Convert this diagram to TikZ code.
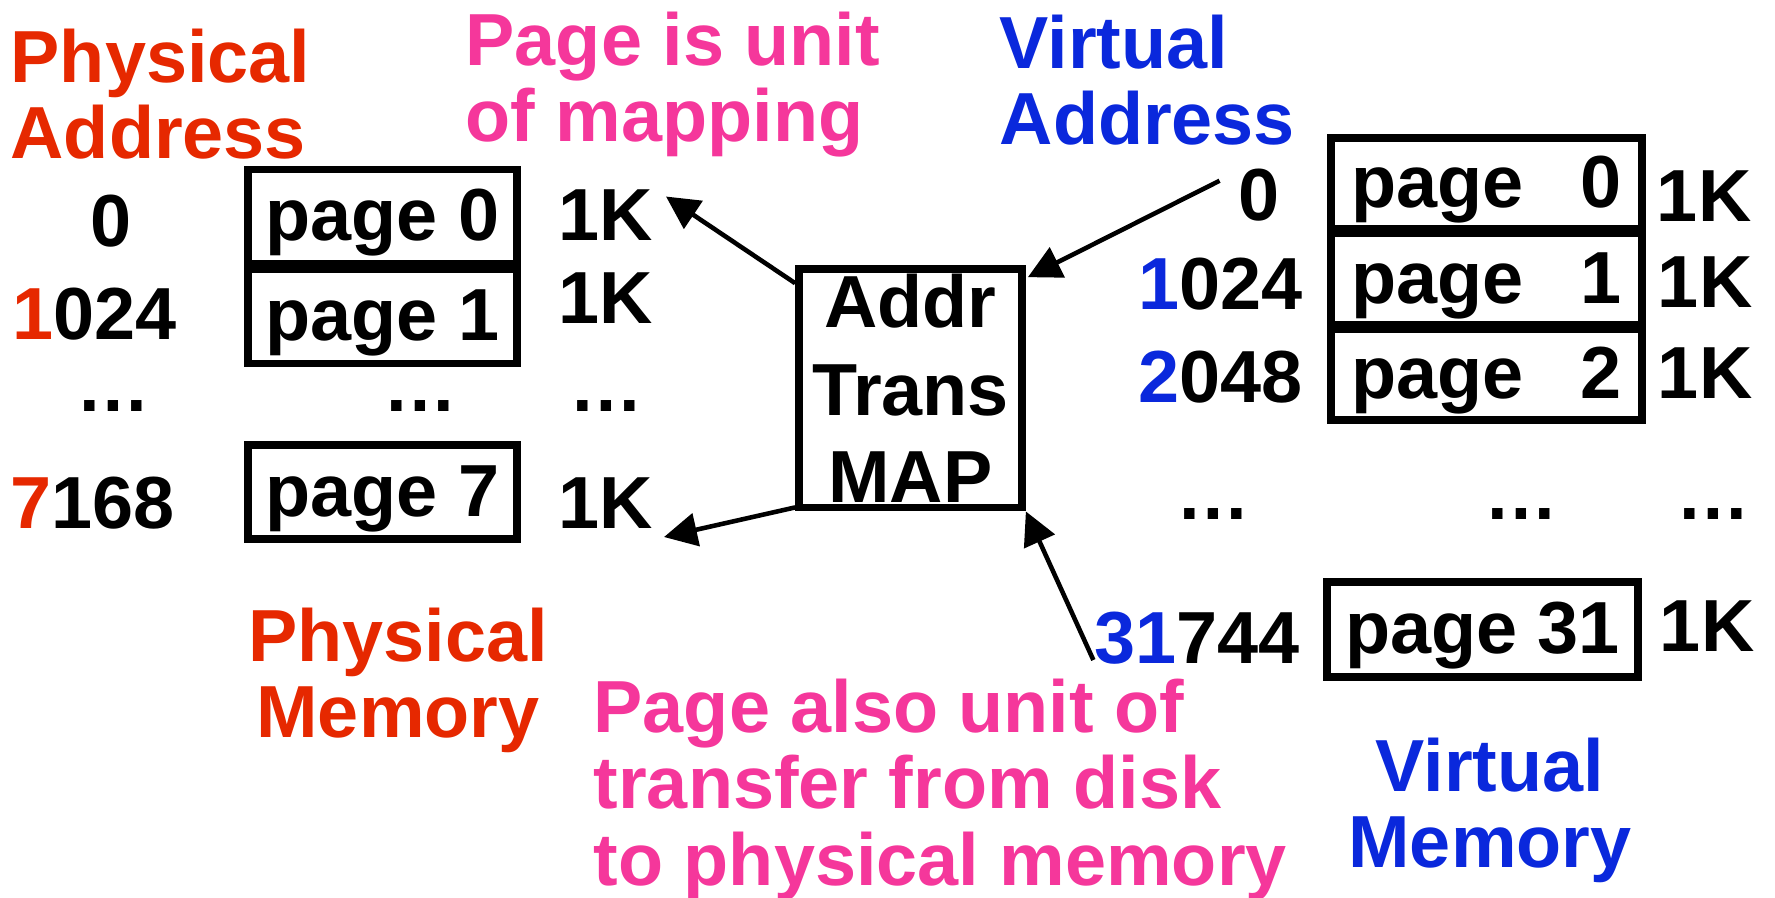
\documentclass[tikz,border=0pt]{standalone}
\usepackage{fontspec}
\setmainfont{Liberation Sans}
\usepackage{tikz}
\usetikzlibrary{arrows.meta}
\definecolor{physred}{RGB}{230,40,0}
\definecolor{virtblue}{RGB}{10,40,220}
\definecolor{notepink}{RGB}{245,55,155}
\newcommand{\vpage}[1]{\makebox[2.7cm]{page\hfill #1}}
\tikzset{lbl/.style={inner sep=0pt,font=\bfseries\fontsize{21}{21.8}\selectfont},
	pagebox/.style={lbl,draw=black,line width=2.2pt,text height=0.53cm,text depth=0.05cm},
	physbox/.style={pagebox,minimum width=2.69cm,minimum height=0.94cm},
	virtbox/.style={pagebox,minimum width=3.11cm,minimum height=0.915cm},
	link/.style={line width=1.3pt},
	>={Triangle[length=0.33cm,width=0.33cm]}}

\begin{document}
\begin{tikzpicture}
	\useasboundingbox (0,0) rectangle (17.75,-8.97);

	\node[lbl,physred,align=left,anchor=north west] (physaddr) at (0.10,-0.28) {Physical\\Address};
	\node[lbl,notepink,align=left,anchor=north west] (unitnote) at (4.65,-0.11) {Page is unit\\of mapping};
	\node[lbl,virtblue,align=left,anchor=north west] (virtaddr) at (9.99,-0.14) {Virtual\\Address};

	\node[lbl,anchor=base east] (pa0) at (1.32,-2.46) {0};
	\node[lbl,anchor=base east] (pa1) at (1.77,-3.39) {{\color{physred}1}024};
	\node[lbl,anchor=base] (pad) at (1.135,-4.11) {…};
	\node[lbl,anchor=base east] (pa7) at (1.75,-5.28) {{\color{physred}7}168};

	\node[physbox] (pm0) at (3.825,-2.165) {page 0};
	\node[physbox] (pm1) at (3.825,-3.165) {page 1};
	\node[lbl,anchor=base] (pmd) at (4.205,-4.11) {…};
	\node[physbox] (pm7) at (3.825,-4.92) {page 7};

	\node[lbl,anchor=base east] (pk0) at (6.54,-2.40) {1K};
	\node[lbl,anchor=base east] (pk1) at (6.54,-3.23) {1K};
	\node[lbl,anchor=base] (pkd) at (6.06,-4.11) {…};
	\node[lbl,anchor=base east] (pk7) at (6.54,-5.28) {1K};

	\node[lbl,draw=black,line width=2.2pt,minimum width=2.23cm,minimum height=2.385cm,align=center,font=\bfseries\fontsize{21}{25}\selectfont] (map) at (9.105,-3.883) {Addr\\Trans\\MAP};

	\node[lbl,anchor=base east] (va0) at (12.80,-2.20) {0};
	\node[lbl,anchor=base east] (va1) at (13.03,-3.09) {{\color{virtblue}1}024};
	\node[lbl,anchor=base east] (va2) at (13.03,-4.02) {{\color{virtblue}2}048};
	\node[lbl,anchor=base] (vad) at (12.13,-5.19) {…};
	\node[lbl,anchor=base east] (va31) at (13.00,-6.63) {{\color{virtblue}31}744};

	\node[virtbox] (vm0) at (14.865,-1.835) {\vpage{0}};
	\node[virtbox] (vm1) at (14.865,-2.79) {\vpage{1}};
	\node[virtbox] (vm2) at (14.865,-3.745) {\vpage{2}};
	\node[lbl,anchor=base] (vmd) at (15.215,-5.19) {…};
	\node[virtbox,minimum height=0.95cm] (vm31) at (14.825,-6.295) {page 31};

	\node[lbl,anchor=base east] (vk0) at (17.52,-2.21) {1K};
	\node[lbl,anchor=base east] (vk1) at (17.53,-3.07) {1K};
	\node[lbl,anchor=base east] (vk2) at (17.53,-3.98) {1K};
	\node[lbl,anchor=base] (vkd) at (17.135,-5.19) {…};
	\node[lbl,anchor=base east] (vk31) at (17.55,-6.51) {1K};

	\node[lbl,physred,align=center,anchor=north] (physmem) at (3.98,-6.07) {Physical\\Memory};
	\node[lbl,notepink,align=left,anchor=north west] (xfernote) at (5.93,-6.78) {Page also unit of\\transfer from disk\\to physical memory};
	\node[lbl,virtblue,align=center,anchor=north] (virtmem) at (14.90,-7.37) {Virtual\\Memory};

	\path [->,link] ([yshift=-0.18cm]map.north west) edge ([xshift=0.12cm,yshift=-0.08cm]pk0.north east);
	\path [->,link] ([yshift=0.04cm]map.south west) edge ([xshift=0.10cm,yshift=-0.09cm]pk7.base east);
	\path [->,link] ([xshift=-0.18cm,yshift=-0.13cm]va0.north west) edge ([xshift=0.02cm,yshift=-0.12cm]map.north east);
	\path [->,link] ([yshift=0.03cm]va31.base west) edge (map.south east);
\end{tikzpicture}
\end{document}
